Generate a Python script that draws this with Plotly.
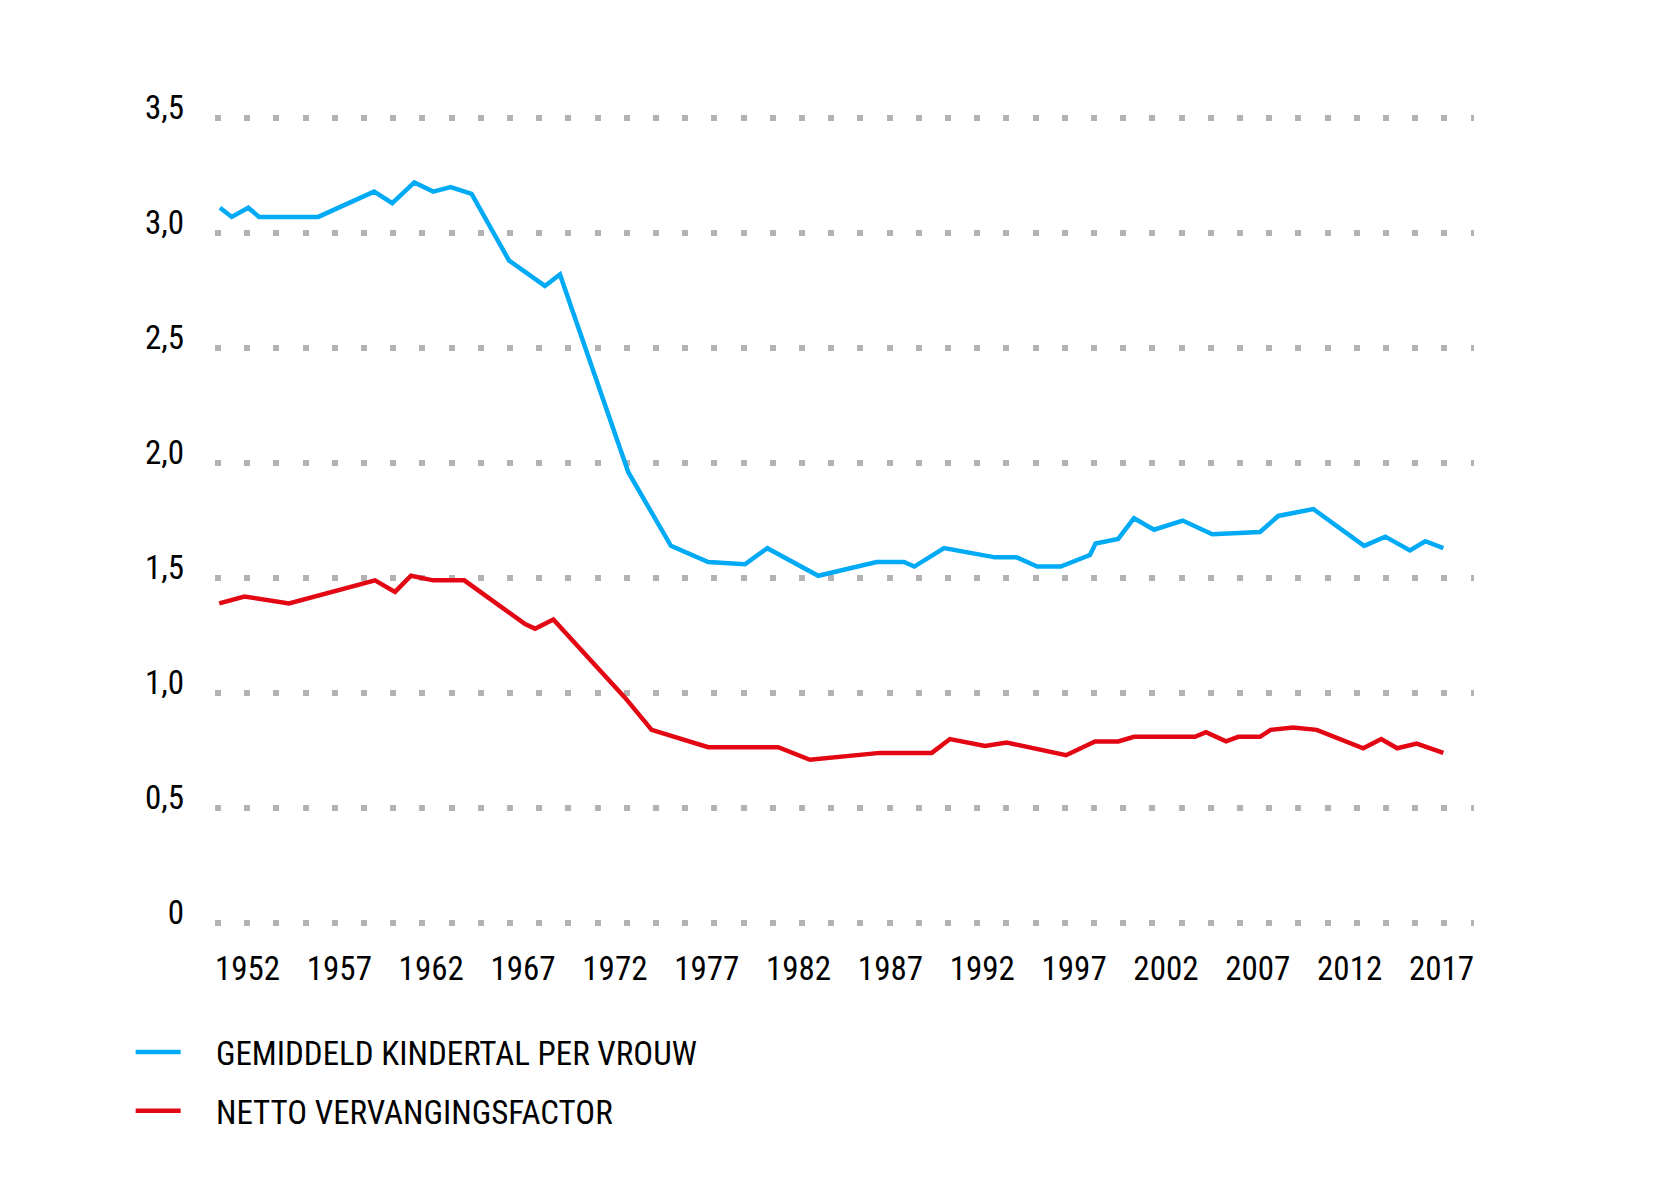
import plotly.graph_objects as go

# ---- data ----
kinder_years = [1950.50, 1951.14, 1952.04, 1952.63, 1955.85, 1958.89, 1959.88, 1961.08, 1962.11,
                1963.06, 1964.20, 1966.24, 1968.19, 1969.01, 1972.73, 1975.05, 1977.08, 1979.08,
                1980.30, 1983.07, 1986.25, 1987.74, 1988.30, 1989.92, 1992.69, 1993.87, 1994.99,
                1996.27, 1997.86, 1998.17, 1999.40, 2000.26, 2001.35, 2002.91, 2004.52, 2007.12,
                2008.11, 2010.02, 2012.79, 2013.94, 2015.28, 2016.12, 2017.10]
kinder_values = [3.11, 3.07, 3.11, 3.07, 3.07, 3.18, 3.13, 3.22, 3.18,
                 3.20, 3.17, 2.88, 2.77, 2.82, 1.96, 1.64, 1.57, 1.56,
                 1.63, 1.51, 1.57, 1.57, 1.55, 1.63, 1.59, 1.59, 1.55,
                 1.55, 1.60, 1.65, 1.67, 1.76, 1.71, 1.75, 1.69, 1.70,
                 1.77, 1.80, 1.64, 1.68, 1.62, 1.66, 1.63]

netto_years = [1950.46, 1951.83, 1954.26, 1958.94, 1960.03, 1960.90, 1962.11, 1963.80, 1967.11,
               1967.65, 1968.65, 1972.55, 1974.00, 1977.08, 1980.89, 1982.62, 1986.43, 1989.25,
               1990.24, 1992.15, 1993.33, 1996.56, 1998.14, 1999.40, 2000.26, 2003.58, 2004.18,
               2005.27, 2005.94, 2007.12, 2007.70, 2008.93, 2010.21, 2012.74, 2013.72, 2014.59,
               2015.65, 2017.10]
netto_values = [1.39, 1.42, 1.39, 1.49, 1.44, 1.51, 1.49, 1.49, 1.30,
                1.28, 1.32, 0.98, 0.84, 0.765, 0.765, 0.71, 0.74, 0.74,
                0.80, 0.77, 0.785, 0.73, 0.79, 0.79, 0.81, 0.81, 0.83,
                0.79, 0.81, 0.81, 0.84, 0.85, 0.84, 0.76, 0.80, 0.76,
                0.78, 0.74]

x_tick_years = [1952, 1957, 1962, 1967, 1972, 1977, 1982, 1987, 1992, 1997, 2002, 2007, 2012, 2017]
y_tick_values = [0, 0.5, 1.0, 1.5, 2.0, 2.5, 3.0, 3.5]
y_tick_labels = ["0", "0,5", "1,0", "1,5", "2,0", "2,5", "3,0", "3,5"]

series_names = ["GEMIDDELD KINDERTAL PER VROUW", "NETTO VERVANGINGSFACTOR"]

FONT = ("Noto Sans ExtraCondensed, Roboto Condensed, Noto Sans Condensed, "
        "Liberation Sans Narrow, DejaVu Sans Condensed, sans-serif")
BLUE = "#00aaf5"
RED = "#e30613"
PAD = "\u00a0" * 4  # gap between legend swatch and label

fig = go.Figure()
fig.add_trace(go.Scatter(x=kinder_years, y=kinder_values, mode="lines", name=PAD + series_names[0],
                         line=dict(color=BLUE, width=4.5), legendgroup="a"))
fig.add_trace(go.Scatter(x=netto_years, y=netto_values, mode="lines", name=PAD + series_names[1],
                         line=dict(color=RED, width=4.5), legendgroup="b"))

fig.update_layout(
    width=1667, height=1179,
    paper_bgcolor="white", plot_bgcolor="white",
    margin=dict(l=207, r=201, t=87, b=257, autoexpand=False),
    font=dict(family=FONT, color="black", size=33),
    showlegend=True,
    legend=dict(x=-0.067, y=-0.1125, xanchor="left", yanchor="top",
                font=dict(size=33, family=FONT), itemwidth=45, tracegroupgap=13,
                bgcolor="rgba(0,0,0,0)"),
)
fig.update_xaxes(range=[1950.23, 2018.77], showgrid=False, zeroline=False, showline=False,
                 tickmode="array", tickvals=x_tick_years, ticktext=[str(v) for v in x_tick_years],
                 ticks="", ticklabelstandoff=16, tickfont=dict(size=33, family=FONT))
fig.update_yaxes(range=[-0.03, 3.6], showgrid=True, gridcolor="#b3b3b3", gridwidth=6,
                 griddash="6px,23.2px", zeroline=False, showline=False,
                 tickmode="array", tickvals=y_tick_values, ticktext=y_tick_labels,
                 ticks="", ticklabelstandoff=30, ticklabelshift=-11,
                 tickfont=dict(size=33, family=FONT))

fig.write_html("out.html")
